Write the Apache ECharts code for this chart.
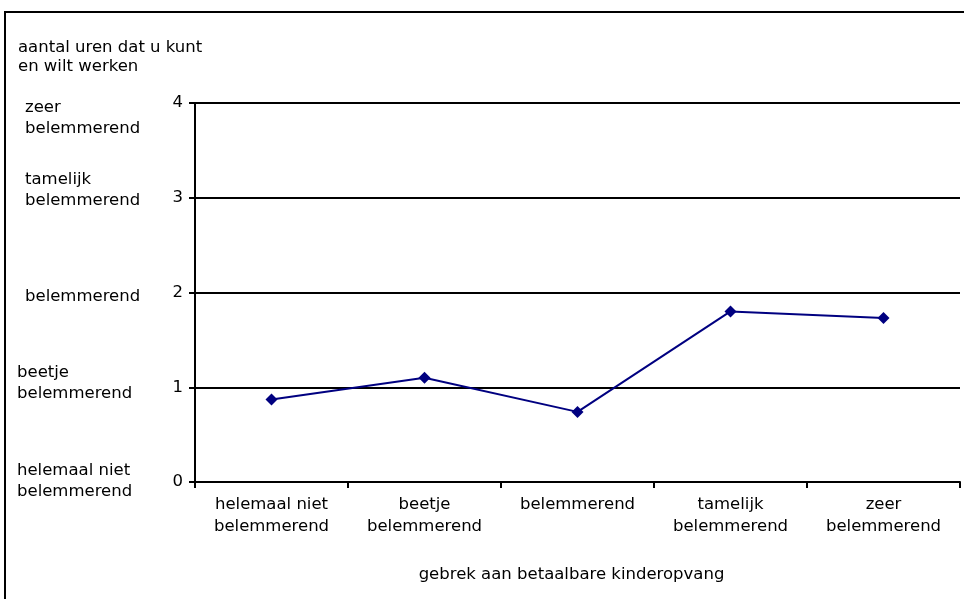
<!DOCTYPE html>
<html><head><meta charset="utf-8">
<script src="https://cdn.jsdelivr.net/npm/echarts@6/dist/echarts.min.js"></script>
<style>html,body{margin:0;padding:0;background:#fff}#c{width:964px;height:599px}</style>
</head><body><div id="c"></div>
<script>
const categories = ['helemaal niet\nbelemmerend','beetje\nbelemmerend','belemmerend','tamelijk\nbelemmerend','zeer\nbelemmerend'];
const values = [0.87, 1.10, 0.74, 1.80, 1.73];
const yTicks = [0, 1, 2, 3, 4];
const yLevelLabels = ['helemaal niet\nbelemmerend','beetje\nbelemmerend','belemmerend','tamelijk\nbelemmerend','zeer\nbelemmerend'];
const yAxisTitle = 'aantal uren dat u kunt\nen wilt werken';
const xAxisTitle = 'gebrek aan betaalbare kinderopvang';

const FONT = 'DejaVu Sans';
const FS = 16.5;
const chart = echarts.init(document.getElementById('c'));
const option = {
  animation: false,
  backgroundColor: '#fff',
  textStyle: {fontFamily: FONT},
  grid: {left: 195, right: 4, top: 103, bottom: 117},
  title: {text: yAxisTitle, left: 13, top: 33,
    textStyle: {fontFamily: FONT, fontSize: FS, fontWeight: 'normal', color: '#000', lineHeight: 19}},
  xAxis: {
    type: 'category', data: categories, boundaryGap: true,
    axisLine: {lineStyle: {color: '#000', width: 2}},
    axisTick: {show: true, length: 6, interval: 0, lineStyle: {color: '#000', width: 2}},
    axisLabel: {color: '#000', fontSize: FS, lineHeight: 22, margin: 12, interval: 0},
    name: xAxisTitle, nameLocation: 'middle', nameGap: 84,
    nameTextStyle: {color: '#000', fontSize: FS, padding: [0, 12, 0, 0]}
  },
  yAxis: {
    type: 'value', min: yTicks[0], max: yTicks[yTicks.length - 1], interval: 1,
    axisLine: {show: true, lineStyle: {color: '#000', width: 2}},
    axisTick: {show: true, length: 6, lineStyle: {color: '#000', width: 2}},
    axisLabel: {color: '#000', fontSize: FS, margin: 12},
    splitLine: {show: true, lineStyle: {color: '#000', width: 2}}
  },
  series: [{
    type: 'line', data: values,
    symbol: 'diamond', symbolSize: 12,
    lineStyle: {color: '#000080', width: 2},
    itemStyle: {color: '#000080'}
  }]
};
chart.setOption(option);

// descriptive level labels left of the value axis
const levelX = [17, 17, 25, 25, 25];
const levelDy = [-1, -4, 4, -8, 15];
const graphics = [{
  type: 'rect', shape: {x: 5, y: 12, width: 1000, height: 700}, silent: true,
  style: {fill: 'none', stroke: '#000', lineWidth: 2}
}];
yTicks.forEach((v, i) => {
  const py = chart.convertToPixel({yAxisIndex: 0}, v);
  graphics.push({
    type: 'text', x: levelX[i], y: py + levelDy[i],
    style: {text: yLevelLabels[i], fontFamily: FONT, fontSize: FS, lineHeight: 21,
      fill: '#000', align: 'left', verticalAlign: 'middle'}
  });
});
chart.setOption({graphic: graphics});
</script>
</body></html>
